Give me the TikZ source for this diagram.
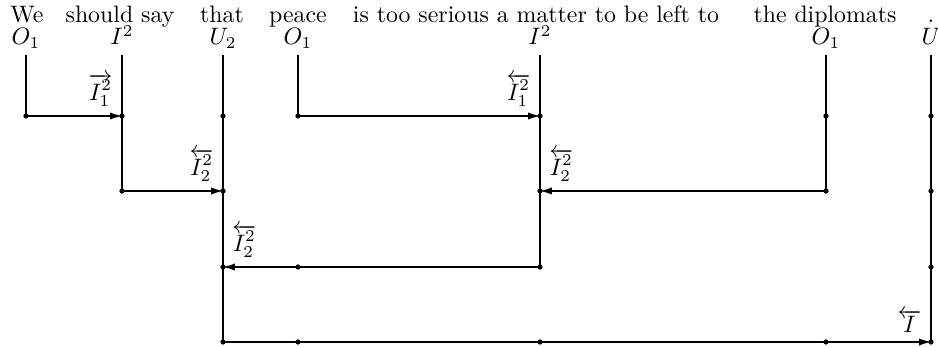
\documentclass[tikz,border=0pt]{standalone}
\usetikzlibrary{arrows.meta,calc}
\begin{document}
\begin{tikzpicture}[x=0.42pt,y=-0.42pt,
  word/.style={anchor=base,inner sep=0pt},
  clab/.style={anchor=base,inner sep=0pt},
  jdot/.style={circle,fill=black,inner sep=0pt,minimum size=2.2pt},
  conn/.style={line width=0.45pt},
  arr/.style={line width=0.45pt,-{Latex[length=5pt,width=3pt]}},
  albl/.style={inner sep=0pt}]
\useasboundingbox (0,0) rectangle (938,347);
% words
\node[word] (w1) at (27,23) {We};
\node[word] (w2) at (120,23) {should say};
\node[word] (w3) at (222,23) {that};
\node[word] (w4) at (298,23) {peace};
\node[word] (w5) at (536,23) {is too serious a matter to be left to};
\node[word] (w6) at (825,23) {the diplomats};
\node[word] (w7) at (931,23) {.};
% column labels
\node[clab] (l1) at (26,45) {$O_1$};
\node[clab] (l2) at (122,45) {$I^2$};
\node[clab] (l3) at (223,45) {$U_2$};
\node[clab] (l4) at (298,45) {$O_1$};
\node[clab] (l5) at (540,45) {$I^2$};
\node[clab] (l6) at (826,45) {$O_1$};
\node[clab] (l7) at (931,45) {$U$};
% column tops
\coordinate (t1) at (26,55);
\coordinate (t2) at (122,55);
\coordinate (t3) at (223,55);
\coordinate (t4) at (298,55);
\coordinate (t5) at (540,55);
\coordinate (t6) at (826,55);
\coordinate (t7) at (931,55);
% junction dots
\foreach \n/\x/\y in {a1/26/116,a2/122/116,a3/223/116,a4/298/116,a5/540/116,a6/826/116,a7/931/116,
  b2/122/191,b3/223/191,b5/540/191,b6/826/191,b7/931/191,
  c3/223/267,c4/298/267,c5/540/267,c7/931/267,
  d3/223/342,d4/298/342,d5/540/342,d6/826/342,d7/931/342}
  \node[jdot] (\n) at (\x,\y) {};
% vertical lines
\draw[conn] (t1) -- (a1.center);
\draw[conn] (t2) -- (b2.center);
\draw[conn] (t3) -- (d3.center);
\draw[conn] (t4) -- (a4.center);
\draw[conn] (t5) -- (c5.center);
\draw[conn] (t6) -- (b6.center);
\draw[conn] (t7) -- (d7.center);
% horizontal arrows
\draw[arr] (a1.center) -- (a2.center);
\draw[arr] (a4.center) -- (a5.center);
\draw[arr] (b2.center) -- (b3.center);
\draw[arr] (b6.center) -- (b5.center);
\draw[arr] (c5.center) -- (c3.center);
\draw[arr] (d3.center) -- (d7.center);
% arrow labels
\node[albl,anchor=south east] (r1) at ($(a2.center)+(-9,-9)$) {$\overrightarrow{I^2_1}$};
\node[albl,anchor=south east] (r2) at ($(a5.center)+(-9,-9)$) {$\overleftarrow{I^2_1}$};
\node[albl,anchor=south east] (r3) at ($(b3.center)+(-9,-9)$) {$\overleftarrow{I^2_2}$};
\node[albl,anchor=south west] (r4) at ($(b5.center)+(9,-9)$) {$\overleftarrow{I^2_2}$};
\node[albl,anchor=south west] (r5) at ($(c3.center)+(9,-9)$) {$\overleftarrow{I^2_2}$};
\node[albl,anchor=south east] (r6) at ($(d7.center)+(-9,-9)$) {$\overleftarrow{I}$};
\end{tikzpicture}
\end{document}
